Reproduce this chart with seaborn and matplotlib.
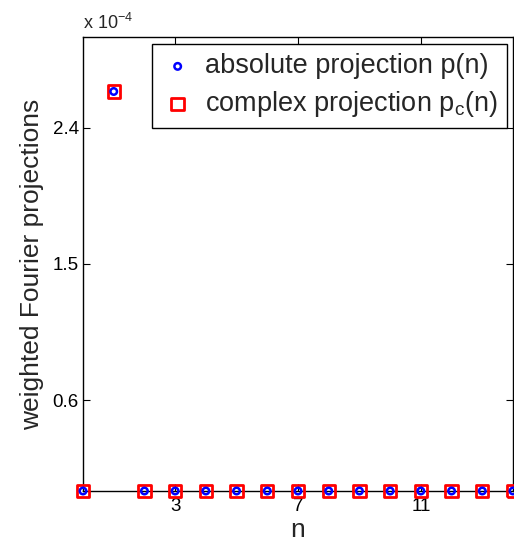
import matplotlib
matplotlib.use("Agg")
import matplotlib.pyplot as plt
import seaborn as sns
import numpy as np
import pandas as pd
from matplotlib.ticker import FuncFormatter

n = list(range(15))
p_abs = [0, 2.64e-4, 0, 0, 0, 0, 0, 0, 0, 0, 0, 0, 0, 0, 0]
p_cplx = [0, 2.64e-4, 0, 0, 0, 0, 0, 0, 0, 0, 0, 0, 0, 0, 0]
xticks = [3, 7, 11]
yticks = [0.6e-4, 1.5e-4, 2.4e-4]

sns.set_theme(style="white")
plt.rcParams['font.family'] = ['Liberation Sans', 'DejaVu Sans']

fig = plt.figure(figsize=(5.14, 5.41), dpi=100)
ax = fig.add_axes([83/514, 50/541, 430/514, 454/541])

df = pd.DataFrame({"n": n, "abs": p_abs, "cplx": p_cplx})
sns.scatterplot(data=df, x="n", y="cplx", marker="s", s=80, facecolor="none",
                edgecolor="red", linewidth=2, ax=ax, clip_on=False, zorder=5,
                label="complex projection p$_\\mathregular{c}$(n)")
sns.scatterplot(data=df, x="n", y="abs", marker="o", s=22, facecolor="none",
                edgecolor="blue", linewidth=1.8, ax=ax, clip_on=False, zorder=6,
                label="absolute projection p(n)")

ax.set_xlim(0, 14)
ax.set_ylim(0, 3e-4)
ax.set_xticks(xticks)
ax.set_yticks(yticks)
ax.yaxis.set_major_formatter(FuncFormatter(lambda v, p: f"{v/1e-4:.1f}"))
ax.tick_params(direction="in", length=5, width=0.8, colors="black", labelsize=13.5,
               top=True, right=True, bottom=True, left=True)
ax.tick_params(axis='x', pad=5)
ax.tick_params(axis='y', pad=3)
for s in ax.spines.values():
    s.set_visible(True)
    s.set_color("black")
    s.set_linewidth(1.0)

ax.set_xlabel("n", fontsize=19, labelpad=2)
ax.set_ylabel("weighted Fourier projections", fontsize=19, labelpad=6)
fig.text(83/514, 1 - 29/541, "x 10$^{\\mathregular{-4}}$", fontsize=13, ha="left", va="baseline")

h, l = ax.get_legend_handles_labels()
leg = ax.legend(h[::-1], l[::-1], loc="upper right", bbox_to_anchor=(1 - 6/430, 1 - 7/454),
                fontsize=19.5, frameon=True, fancybox=False, edgecolor="black",
                framealpha=1, borderpad=0.35, handletextpad=0.4, labelspacing=0.35,
                handlelength=1.2, borderaxespad=0)
leg.get_frame().set_linewidth(1.0)

fig.savefig("out.png", dpi=100)
